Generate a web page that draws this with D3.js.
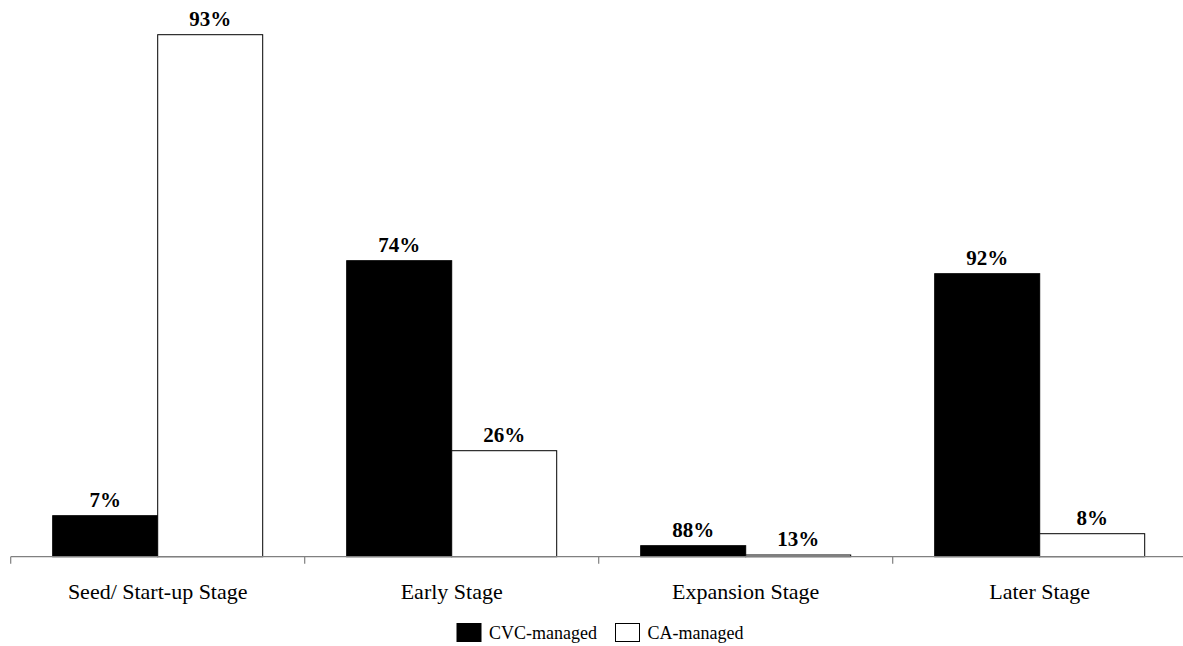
<!DOCTYPE html>
<html>
<head>
<meta charset="utf-8">
<script src="https://cdn.jsdelivr.net/npm/d3@7"></script>
<style>
  body { margin: 0; background: #fff; }
  svg { display: block; font-family: "Liberation Serif", "Times New Roman", serif; }
</style>
</head>
<body>
<div id="container"></div>
<script>
/* DATA */
const stages = ["Seed/ Start-up Stage", "Early Stage", "Expansion Stage", "Later Stage"];
const seriesNames = ["CVC-managed", "CA-managed"];
// bar heights (arbitrary units)
const cvcValues = [41, 296, 11, 283];
const caValues = [522, 106, 1.7, 23];
// percent labels as printed
const cvcLabels = ["7%", "74%", "88%", "92%"];
const caLabels = ["93%", "26%", "13%", "8%"];

/* CONSTANTS */
const width = 1183, height = 646;
const margin = { left: 10.7, right: -4, top: 0, bottom: 89.3 };
const baseY = height - margin.bottom;

const svg = d3.select("#container")
  .append("svg")
  .attr("width", width)
  .attr("height", height);

// scales
const xScale = d3.scaleBand()
  .domain(stages)
  .range([margin.left, margin.left + 294 * 4])
  .paddingInner(0)
  .paddingOuter(0);

const xSub = d3.scaleBand()
  .domain(seriesNames)
  .range([42, 294 - 42]);

const yScale = d3.scaleLinear()
  .domain([0, 556.7])
  .range([baseY, 0]);

const colors = { "CVC-managed": "#000", "CA-managed": "#fff" };

const rows = [];
stages.forEach((s, i) => {
  rows.push({ stage: s, series: "CVC-managed", value: cvcValues[i], label: cvcLabels[i] });
  rows.push({ stage: s, series: "CA-managed", value: caValues[i], label: caLabels[i] });
});

// bars
svg.selectAll("rect.bar")
  .data(rows)
  .join("rect")
  .attr("class", "bar")
  .attr("x", d => xScale(d.stage) + xSub(d.series))
  .attr("y", d => yScale(d.value))
  .attr("width", xSub.bandwidth())
  .attr("height", d => baseY - yScale(d.value))
  .attr("fill", d => colors[d.series])
  .attr("stroke", "#000")
  .attr("stroke-width", 1);

// value labels
svg.selectAll("text.val")
  .data(rows)
  .join("text")
  .attr("class", "val")
  .attr("x", d => xScale(d.stage) + xSub(d.series) + xSub.bandwidth() / 2)
  .attr("y", d => yScale(d.value) - 9)
  .attr("text-anchor", "middle")
  .style("font-weight", "bold")
  .style("font-size", "21px")
  .text(d => d.label);

// x axis
const axis = svg.append("g")
  .attr("transform", `translate(0,${baseY})`);

axis.append("line")
  .attr("x1", margin.left)
  .attr("x2", width)
  .attr("stroke", "#808080")
  .attr("stroke-width", 1.2);

axis.selectAll("line.tick")
  .data(stages)
  .join("line")
  .attr("class", "tick")
  .attr("x1", d => xScale(d))
  .attr("x2", d => xScale(d))
  .attr("y1", 0)
  .attr("y2", 7)
  .attr("stroke", "#808080")
  .attr("stroke-width", 1.2);

axis.selectAll("text.cat")
  .data(stages)
  .join("text")
  .attr("class", "cat")
  .attr("x", d => xScale(d) + xScale.bandwidth() / 2)
  .attr("y", 42.5)
  .attr("text-anchor", "middle")
  .style("font-size", "22px")
  .text(d => d);

// legend
const legend = svg.append("g");
const legendItems = [
  { name: "CVC-managed", x: 457 },
  { name: "CA-managed", x: 615.5 }
];
legend.selectAll("rect")
  .data(legendItems)
  .join("rect")
  .attr("x", d => d.x)
  .attr("y", 623.5)
  .attr("width", 24)
  .attr("height", 18)
  .attr("fill", d => colors[d.name])
  .attr("stroke", "#000")
  .attr("stroke-width", 1);

legend.selectAll("text")
  .data(legendItems)
  .join("text")
  .attr("x", d => d.x + 32)
  .attr("y", 639)
  .style("font-size", "18px")
  .text(d => d.name);
</script>
</body>
</html>
